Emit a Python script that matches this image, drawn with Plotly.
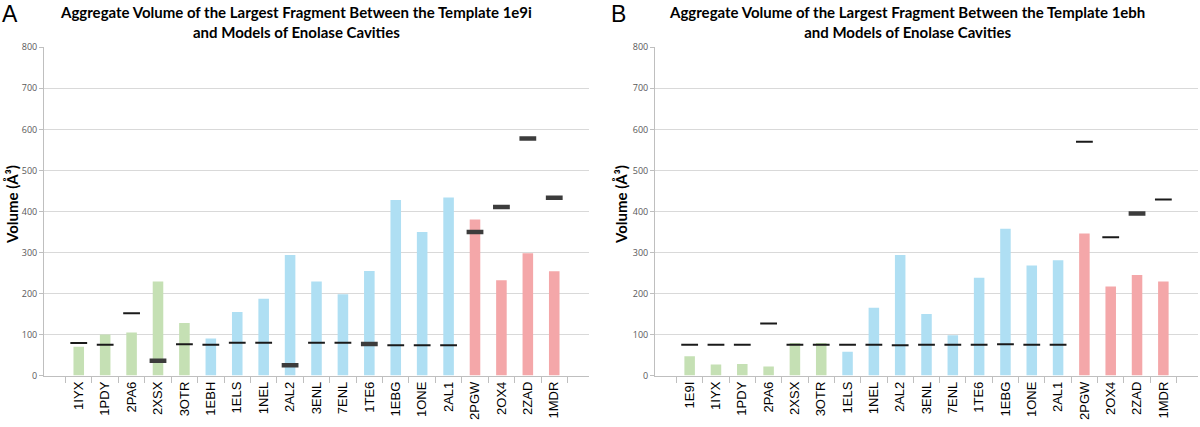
import plotly.graph_objects as go

# ---------------- data ----------------
cats_a = ["1IYX", "1PDY", "2PA6", "2XSX", "3OTR", "1EBH", "1ELS", "1NEL", "2AL2", "3ENL",
          "7ENL", "1TE6", "1EBG", "1ONE", "2AL1", "2PGW", "2OX4", "2ZAD", "1MDR"]
group_a = ["g", "g", "g", "g", "g", "b", "b", "b", "b", "b",
           "b", "b", "b", "b", "b", "r", "r", "r", "r"]
vol_a = [70, 100, 105, 229, 128, 90, 155, 187, 294, 229,
         198, 255, 428, 350, 434, 380, 232, 298, 254]
mark_thin_a = [79, 75, 152, None, 76, 75, 80, 80, None, 80,
               80, None, 74, 74, 74, None, None, None, None]
mark_thick_a = [None, None, None, 36, None, None, None, None, 25, None,
                None, 77, None, None, None, 350, 411, 578, 433]

cats_b = ["1E9I", "1IYX", "1PDY", "2PA6", "2XSX", "3OTR", "1ELS", "1NEL", "2AL2", "3ENL",
          "7ENL", "1TE6", "1EBG", "1ONE", "2AL1", "2PGW", "2OX4", "2ZAD", "1MDR"]
group_b = ["g", "g", "g", "g", "g", "g", "b", "b", "b", "b",
           "b", "b", "b", "b", "b", "r", "r", "r", "r"]
vol_b = [47, 27, 28, 22, 79, 79, 58, 165, 294, 150,
         98, 238, 358, 268, 281, 346, 217, 245, 229]
mark_thin_b = [75, 75, 75, 127, 75, 75, 75, 75, 74, 75,
               75, 75, 76, 75, 75, 570, 337, None, 429]
mark_thick_b = [None, None, None, None, None, None, None, None, None, None,
                None, None, None, None, None, None, None, 395, None]

title_a = "Aggregate Volume of the Largest Fragment Between the Template 1e9i<br>and Models of Enolase Cavities"
title_b = "Aggregate Volume of the Largest Fragment Between the Template 1ebh<br>and Models of Enolase Cavities"
y_title = "Volume (Å³)"

# ---------------- style ----------------
COLORS = {"g": "#c5e0b4", "b": "#afdff3", "r": "#f4a7a9"}
W, H = 1200, 427
Y_BOT = (H - 375.5) / H
Y_TOP = (H - 47.3) / H

fig = go.Figure()

def add_panel(cats, groups, vols, thin, thick, xa, ya):
    fig.add_trace(go.Bar(x=cats, y=vols, marker=dict(color=[COLORS[g] for g in groups], line=dict(width=0)),
                         xaxis=xa, yaxis=ya, showlegend=False, hoverinfo="x+y"))
    fig.add_trace(go.Scatter(x=cats, y=thin, mode="markers", xaxis=xa, yaxis=ya, showlegend=False,
                             marker=dict(symbol="line-ew", size=12, line=dict(width=2, color="#1a1a1a"))))
    fig.add_trace(go.Scatter(x=cats, y=thick, mode="markers", xaxis=xa, yaxis=ya, showlegend=False,
                             marker=dict(symbol="line-ew", size=12, line=dict(width=4.5, color="#3c3c3c"))))

add_panel(cats_a, group_a, vol_a, mark_thin_a, mark_thick_a, "x", "y")
add_panel(cats_b, group_b, vol_b, mark_thin_b, mark_thick_b, "x2", "y2")

xaxis_style = dict(showline=True, linecolor="#bfbfbf", linewidth=1, ticks="outside", tickson="boundaries",
                   ticklen=6, tickcolor="#bfbfbf", tickangle=-90, automargin=False,
                   tickfont=dict(family="Liberation Sans", size=13, color="#000000"),
                   showgrid=False, zeroline=False)
yaxis_style = dict(range=[0, 800], dtick=100, showgrid=True, gridcolor="#d9d9d9", gridwidth=1,
                   showline=True, linecolor="#bfbfbf", ticks="outside", ticklen=4, tickcolor="#bfbfbf",
                   tickfont=dict(family="Open Sans", size=9, color="#595959"), zeroline=False,
                   automargin=False, domain=[Y_BOT, Y_TOP])

fig.update_layout(
    width=W, height=H, autosize=False,
    margin=dict(l=0, r=0, t=0, b=0, pad=0, autoexpand=False),
    paper_bgcolor="white", plot_bgcolor="white",
    bargap=0.6,
    xaxis=dict(domain=[44 / W, 589 / W], anchor="y", **xaxis_style),
    yaxis=dict(anchor="x", **yaxis_style),
    xaxis2=dict(domain=[655 / W, 1198 / W], anchor="y2", **xaxis_style),
    yaxis2=dict(anchor="x2", **yaxis_style),
)

ann = []
for cx, title in ((296, title_a), (907, title_b)):
    ann.append(dict(text=title, x=cx / W, y=1 - 1 / H, xref="paper", yref="paper", xanchor="center",
                    yanchor="top", showarrow=False, align="center",
                    font=dict(family="Lato", size=15, color="#000000", weight="bold")))
for cx, letter in ((10, "A"), (618, "B")):
    ann.append(dict(text=letter, x=cx / W, y=1 - 14 / H, xref="paper", yref="paper", xanchor="center",
                    yanchor="middle", showarrow=False,
                    font=dict(family="Liberation Sans", size=23, color="#000000")))
for cx in (12, 621):
    ann.append(dict(text=y_title, x=cx / W, y=1 - 205 / H, xref="paper", yref="paper", xanchor="center",
                    yanchor="middle", showarrow=False, textangle=-90,
                    font=dict(family="Lato", size=15, color="#000000", weight="bold")))
fig.update_layout(annotations=ann)

fig.write_html("out.html", config={"displayModeBar": False},
               post_script="document.body.style.margin='0';document.body.style.padding='0';"
                           "document.body.style.overflow='hidden';")
